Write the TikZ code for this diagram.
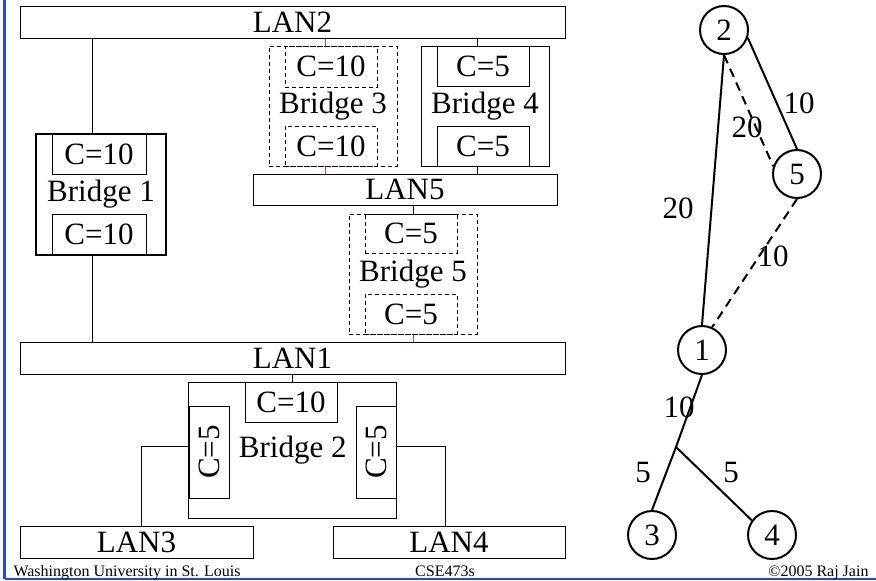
\documentclass[tikz,border=0pt]{standalone}
\usepackage{fontspec}
\setmainfont{Liberation Serif}
\usepackage{graphicx}
\usepackage{tikz}
\usetikzlibrary{calc}

\definecolor{linkred}{RGB}{226,45,75}
\definecolor{slideblue}{RGB}{30,70,235}
\newcommand{\bigfont}{\fontsize{31}{36}\selectfont}
\newcommand{\footfont}{\fontsize{16}{19}\selectfont}

\begin{document}
\begin{tikzpicture}[x=1pt, y=-1pt, line width=1pt,
    lan/.style={draw, rectangle, inner sep=0pt, font=\bigfont},
    port/.style={draw, rectangle, inner sep=0pt, font=\bigfont, minimum width=92pt, minimum height=40pt},
    bridgebox/.style={draw, rectangle, inner sep=0pt, font=\bigfont, minimum width=128pt, minimum height=120pt},
    broken/.style={dash pattern=on 4pt off 3pt},
    vertex/.style={draw, circle, line width=2pt, minimum size=48pt, inner sep=0pt, font=\bigfont},
    edge/.style={line width=2pt},
    weight/.style={font=\bigfont, inner sep=0pt},
    foot/.style={font=\footfont, inner sep=0pt}]
    \useasboundingbox (0,0) rectangle (876,581);

    % slide frame
    \draw[slideblue, line width=2.5pt] (4.5,0) -- (4.5,579);
    \draw[slideblue, line width=1.5pt] (4.5,579) -- (876,579);

    % LANs
    \node[lan, minimum width=545pt, minimum height=32pt] (lan2) at (292.5,22) {LAN2};
    \node[lan, minimum width=304pt, minimum height=31pt] (lan5) at (405,189.5) {LAN5};
    \node[lan, minimum width=545pt, minimum height=32pt] (lan1) at (292.5,358) {LAN1};
    \node[lan, minimum width=233pt, minimum height=32pt] (lan3) at (136.5,542) {LAN3};
    \node[lan, minimum width=232pt, minimum height=32pt] (lan4) at (449,542) {LAN4};

    % Bridge 1 (thick frame)
    \node[bridgebox, line width=2.5pt, minimum width=130pt, minimum height=121pt] (b1) at (101,194.5) {Bridge 1};
    \node[port, minimum width=94pt] (b1a) at (99,154) {C=10};
    \node[port, minimum width=94pt, minimum height=41pt] (b1b) at (99,234.5) {C=10};

    % Bridge 3 (dashed, blocked)
    \node[bridgebox, broken] (b3) at (333,106) {Bridge 3};
    \node[port, broken, minimum height=41pt] (b3a) at (331,66.5) {C=10};
    \node[port, broken] (b3b) at (331,146) {C=10};

    % Bridge 4
    \node[bridgebox] (b4) at (485,106) {Bridge 4};
    \node[port] (b4a) at (483,66) {C=5};
    \node[port] (b4b) at (483,146) {C=5};

    % Bridge 5 (dashed, blocked)
    \node[bridgebox, broken] (b5) at (413,274) {Bridge 5};
    \node[port, broken, minimum height=39pt] (b5a) at (411,233.5) {C=5};
    \node[port, broken] (b5b) at (411,314) {C=5};

    % Bridge 2 with three ports
    \node[bridgebox, minimum width=208pt, minimum height=136pt] (b2) at (292.8,450) {Bridge 2};
    \node[port] (b2a) at (291,402) {C=10};
    \node[port, minimum width=40pt, minimum height=92pt] (b2l) at (209,452) {\rotatebox{90}{C=5}};
    \node[port, minimum width=40pt, minimum height=92pt] (b2r) at (376.7,452) {\rotatebox{90}{C=5}};

    % links between LANs and bridges
    \draw ([xshift=-9pt]b1.north) coordinate (t1) -- (t1 |- lan2.south);
    \draw ([xshift=-9pt]b1.south) coordinate (t2) -- (t2 |- lan1.north);
    \draw[linkred] ([xshift=-8pt]b3.north) coordinate (t3) -- (t3 |- lan2.south);
    \draw[linkred] ([xshift=-8pt]b3.south) coordinate (t4) -- (t4 |- lan5.north);
    \draw ([xshift=-8pt]b4.north) coordinate (t5) -- (t5 |- lan2.south);
    \draw ([xshift=-8pt]b4.south) coordinate (t6) -- (t6 |- lan5.north);
    \draw (b5.north) -- (b5.north |- lan5.south);
    \draw[linkred] (b5.south) -- (b5.south |- lan1.north);
    \draw (b2.north) -- (b2.north |- lan1.south);
    \draw ([yshift=6pt]b2l.west) -| ([xshift=4.5pt]lan3.north);
    \draw ([yshift=6pt]b2r.east) -| ([xshift=-4pt]lan4.north);

    % spanning tree graph
    \node[vertex] (n2) at (724,30) {2};
    \node[vertex] (n5) at (797,174) {5};
    \node[vertex] (n1) at (702,350) {1};
    \node[vertex] (n3) at (652,535) {3};
    \node[vertex] (n4) at (772,535) {4};
    \coordinate (fork) at (676,447);

    \draw[edge] (n1.north) -- (n2.south);
    \draw[edge] (n2.-18) -- (n5.north);
    \draw[edge, dash pattern=on 9pt off 6pt] (n2.south) -- (n5.162);
    \draw[edge, dash pattern=on 9pt off 6pt] (n5.south) -- (n1.66);
    \draw[edge] (n1.south) -- (fork) -- (n3.north);
    \draw[edge] (fork) -- (n4.144);

    % link costs
    \node[weight] (w12) at (678,208) {20};
    \node[weight] (w25) at (799,103) {10};
    \node[weight] (w25d) at (747,127) {20};
    \node[weight] (w51) at (773,256) {10};
    \node[weight] (w1f) at (679,407) {10};
    \node[weight] (wf3) at (643,472) {5};
    \node[weight] (wf4) at (731,472) {5};

    % footer
    \node[foot, anchor=base west] (uni) at (13,576) {Washington University in St. Louis};
    \node[foot, anchor=base] (course) at (445,576) {CSE473s};
    \node[foot, anchor=base east] (copy) at (869,576) {©2005 Raj Jain};
\end{tikzpicture}
\end{document}
